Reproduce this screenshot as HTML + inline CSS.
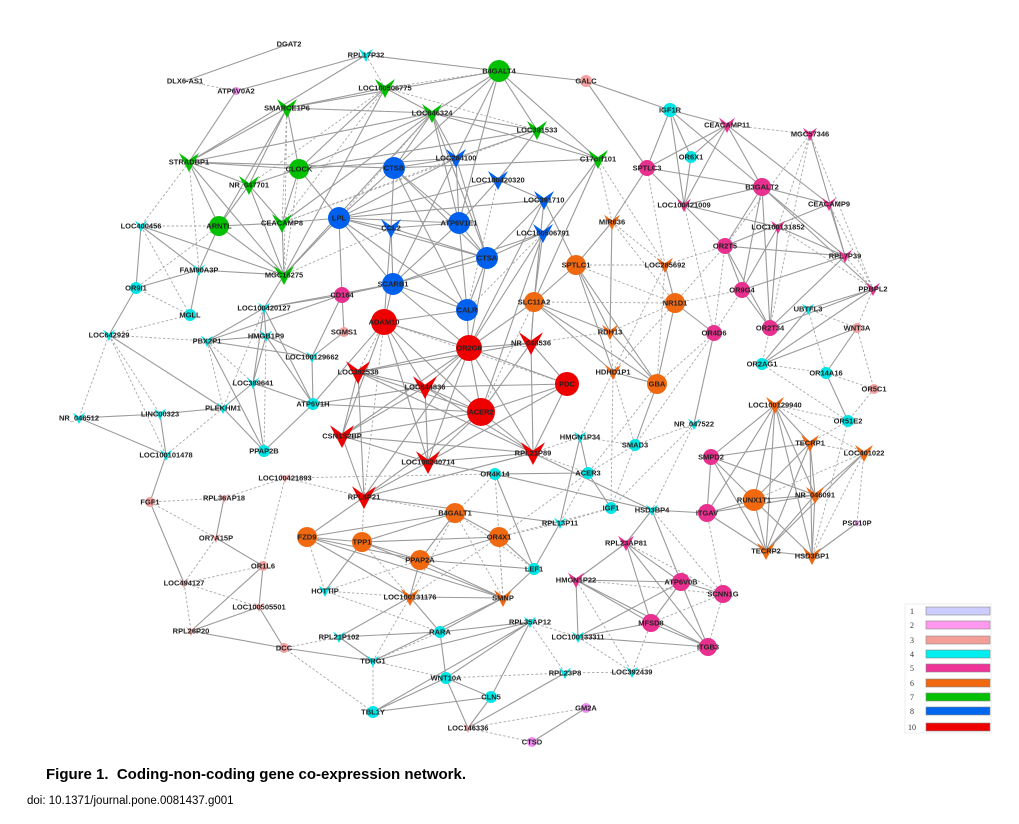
<!DOCTYPE html>
<html><head><meta charset="utf-8"><style>
body{margin:0;background:#fff;width:1019px;height:824px;overflow:hidden;font-family:"Liberation Sans",Arial,sans-serif}
svg{position:absolute;left:0;top:0}
#lab text{font-family:"Liberation Sans",Arial,sans-serif;font-size:7.5px;font-weight:bold;fill:#222;text-anchor:middle;dominant-baseline:central}
.cap{position:absolute;left:46px;top:766px;font-size:15px;font-weight:bold;color:#000}
.doi{position:absolute;left:27px;top:795px;font-size:11.5px;color:#000}
</style></head><body>
<svg width="1019" height="824" viewBox="0 0 1019 824">
<g id="edges"></g><g id="nodes"></g>
<g id="lab">
<text x="289" y="44">DGAT2</text><text x="185" y="81">DLX6-AS1</text>
<text x="366" y="55">RPL17P32</text><text x="236" y="91">ATP6V0A2</text>
<text x="499" y="71">B4GALT4</text><text x="385" y="88">LOC100506775</text>
<text x="287" y="108">SMARCE1P6</text><text x="432" y="113">LOC646324</text>
<text x="537" y="130">LOC391533</text><text x="598" y="159">C17orf101</text>
<text x="189" y="162">STRADBP1</text><text x="299" y="169">CLOCK</text>
<text x="249" y="185">NR_047701</text><text x="219" y="226">ARNTL</text>
<text x="282" y="223">CEACAMP8</text><text x="284" y="275">MGC16275</text>
<text x="394" y="168">CTSB</text><text x="456" y="158">LOC284100</text>
<text x="498" y="180">LOC100420320</text><text x="544" y="200">LOC391710</text>
<text x="339" y="218">LPL</text><text x="391" y="228">CCL2</text>
<text x="459" y="223">ATP6V1E1</text><text x="543" y="233">LOC100506791</text>
<text x="487" y="258">CTSA</text><text x="393" y="284">SCARB1</text><text x="467" y="310">CALR</text>
<text x="384" y="322">ADAM10</text><text x="469" y="348">OR2G6</text>
<text x="531" y="343">NR_048536</text><text x="358" y="372">LOC392538</text>
<text x="425" y="387">LOC644836</text><text x="567" y="384">PDC</text>
<text x="481" y="412">ACER2</text><text x="342" y="436">CSN1S2BP</text>
<text x="533" y="453">RPL21P89</text><text x="428" y="462">LOC100240714</text>
<text x="364" y="497">RPL6P21</text>
<text x="612" y="222">MIR636</text><text x="576" y="265">SPTLC1</text>
<text x="665" y="265">LOC285692</text><text x="534" y="302">SLC11A2</text>
<text x="675" y="303">NR1D1</text><text x="610" y="332">RDH13</text>
<text x="613" y="372">HDHD1P1</text><text x="657" y="384">GBA</text>
<text x="455" y="513">B4GALT1</text><text x="307" y="537">FZD9</text>
<text x="362" y="542">TPP1</text><text x="499" y="537">OR4X1</text>
<text x="420" y="560">PPAP2A</text><text x="410" y="597">LOC100131176</text>
<text x="503" y="598">SMNP</text><text x="775" y="405">LOC100129940</text>
<text x="810" y="443">TECRP1</text><text x="864" y="453">LOC401022</text>
<text x="754" y="500">RUNX1T1</text><text x="815" y="495">NR_046091</text>
<text x="766" y="551">TECRP2</text><text x="812" y="556">HSD3BP1</text>
<text x="647" y="168">SPTLC3</text><text x="727" y="125">CEACAMP11</text>
<text x="810" y="134">MGC57346</text><text x="762" y="187">B3GALT2</text>
<text x="684" y="205">LOC100421009</text><text x="829" y="204">CEACAMP9</text>
<text x="778" y="227">LOC100131852</text><text x="725" y="246">OR2T5</text>
<text x="845" y="256">RPL7P39</text><text x="742" y="290">OR9G4</text>
<text x="873" y="289">PPBPL2</text><text x="770" y="328">OR2T34</text>
<text x="714" y="333">OR4D6</text><text x="711" y="457">SMPD2</text>
<text x="707" y="513">ITGAV</text><text x="626" y="543">RPL23AP81</text>
<text x="576" y="580">HMGN1P22</text><text x="681" y="582">ATP6V0B</text>
<text x="723" y="594">SCNN1G</text><text x="651" y="623">MFSD8</text>
<text x="708" y="647">ITGB3</text><text x="342" y="295">CD164</text>
<text x="670" y="110">IGF1R</text><text x="691" y="157">OR6X1</text>
<text x="136" y="288">OR9I1</text><text x="190" y="315">MGLL</text>
<text x="141" y="226">LOC400456</text><text x="199" y="270">FAM90A3P</text>
<text x="264" y="308">LOC100420127</text><text x="109" y="335">LOC642929</text>
<text x="207" y="341">PBX2P1</text><text x="266" y="336">HMGB1P9</text>
<text x="312" y="357">LOC100129662</text><text x="253" y="383">LOC389641</text>
<text x="313" y="404">ATP6V1H</text><text x="223" y="408">PLEKHM1</text>
<text x="160" y="414">LINC00323</text><text x="79" y="418">NR_046512</text>
<text x="166" y="455">LOC100101478</text><text x="264" y="451">PPAP2B</text>
<text x="808" y="309">UBTFL3</text><text x="762" y="364">OR2AG1</text>
<text x="826" y="373">OR14A16</text><text x="848" y="421">OR51E2</text>
<text x="694" y="424">NR_047522</text><text x="580" y="437">HMGN1P34</text>
<text x="635" y="445">SMAD3</text><text x="588" y="473">ACER3</text>
<text x="495" y="474">OR4K14</text><text x="611" y="508">IGF1</text>
<text x="652" y="510">HSD3BP4</text><text x="560" y="523">RPL13P11</text>
<text x="534" y="569">LEF1</text><text x="325" y="591">HOTTIP</text>
<text x="440" y="632">RARA</text><text x="530" y="622">RPL35AP12</text>
<text x="339" y="637">RPL21P102</text><text x="373" y="661">TDRG1</text>
<text x="446" y="678">WNT10A</text><text x="491" y="697">CLN5</text>
<text x="373" y="712">TBL1Y</text><text x="578" y="637">LOC100133311</text>
<text x="632" y="672">LOC392439</text><text x="565" y="673">RPL23P8</text>
<text x="586" y="81">GALC</text><text x="344" y="332">SGMS1</text>
<text x="857" y="328">WNT3A</text><text x="874" y="389">OR5C1</text>
<text x="150" y="502">FGF1</text><text x="224" y="498">RPL36AP18</text>
<text x="285" y="478">LOC100421893</text><text x="216" y="538">OR7A15P</text>
<text x="263" y="566">OR1L6</text><text x="184" y="583">LOC494127</text>
<text x="259" y="607">LOC100505501</text><text x="191" y="631">RPL26P20</text>
<text x="284" y="648">DCC</text><text x="468" y="728">LOC146336</text>
<text x="857" y="523">PSG10P</text><text x="586" y="708">GM2A</text><text x="532" y="742">CTSD</text>
</g>
<g id="legend" font-family="Liberation Serif,serif" font-size="8" fill="#333">
<rect x="905" y="604" width="86" height="129" fill="none" stroke="#eee"/>
<text x="910" y="614">1</text><rect x="926" y="607" width="64" height="8" fill="#ccccff" stroke="#888" stroke-width="0.6"/>
<text x="910" y="628">2</text><rect x="926" y="621" width="64" height="8" fill="#ff99f0" stroke="#888" stroke-width="0.6"/>
<text x="910" y="643">3</text><rect x="926" y="636" width="64" height="8" fill="#f49e9a" stroke="#888" stroke-width="0.6"/>
<text x="910" y="657">4</text><rect x="926" y="650" width="64" height="8" fill="#00eeee" stroke="#888" stroke-width="0.6"/>
<text x="910" y="671">5</text><rect x="926" y="664" width="64" height="8" fill="#ee3399" stroke="#888" stroke-width="0.6"/>
<text x="910" y="686">6</text><rect x="926" y="679" width="64" height="8" fill="#f06810" stroke="#888" stroke-width="0.6"/>
<text x="910" y="700">7</text><rect x="926" y="693" width="64" height="8" fill="#00c000" stroke="#888" stroke-width="0.6"/>
<text x="910" y="714">8</text><rect x="926" y="707" width="64" height="8" fill="#0066ee" stroke="#888" stroke-width="0.6"/>
<text x="908" y="730">10</text><rect x="926" y="723" width="64" height="8" fill="#ee0000" stroke="#888" stroke-width="0.6"/>
</g>
</svg>
<div class="cap">Figure 1.&nbsp; Coding-non-coding gene co-expression network.</div>
<div class="doi">doi: 10.1371/journal.pone.0081437.g001</div>
<script>
var G='#00c000',B='#0060ee',R='#ee0000',O='#f06810',P='#e8308f',C='#00e6e6',S='#f2a0a0',V='#f08ef0';
var N={
DGAT2:[289,44,'n'],'DLX6-AS1':[185,81,'n'],
RPL17P32:[366,55,'v',C,7],ATP6V0A2:[236,91,'c',V,4],
B4GALT4:[499,71,'c',G,11],LOC100506775:[385,88,'v',G,10],SMARCE1P6:[287,108,'v',G,10],LOC646324:[432,113,'v',G,10],
LOC391533:[537,130,'v',G,10],C17orf101:[598,159,'v',G,10],STRADBP1:[189,162,'v',G,10],CLOCK:[299,169,'c',G,10],
NR_047701:[249,185,'v',G,10],ARNTL:[219,226,'c',G,10],CEACAMP8:[282,223,'v',G,10],MGC16275:[284,275,'v',G,10],
CTSB:[394,168,'c',B,11],LOC284100:[456,158,'v',B,10],LOC100420320:[498,180,'v',B,10],LOC391710:[544,200,'v',B,10],
LPL:[339,218,'c',B,11],CCL2:[391,228,'v',B,10],ATP6V1E1:[459,223,'c',B,11],LOC100506791:[543,233,'v',B,10],
CTSA:[487,258,'c',B,11],SCARB1:[393,284,'c',B,11],CALR:[467,310,'c',B,11],
ADAM10:[384,322,'c',R,13],OR2G6:[469,348,'c',R,13],NR_048536:[531,343,'v',R,12],LOC392538:[358,372,'v',R,12],
LOC644836:[425,387,'v',R,12],PDC:[567,384,'c',R,12],ACER2:[481,412,'c',R,14],CSN1S2BP:[342,436,'v',R,12],
RPL21P89:[533,453,'v',R,12],LOC100240714:[428,462,'v',R,12],RPL6P21:[364,497,'v',R,12],
MIR636:[612,222,'v',O,8],SPTLC1:[576,265,'c',O,10],LOC285692:[665,265,'v',O,8],SLC11A2:[534,302,'c',O,10],
NR1D1:[675,303,'c',O,10],RDH13:[610,332,'v',O,8],HDHD1P1:[613,372,'v',O,8],GBA:[657,384,'c',O,10],
B4GALT1:[455,513,'c',O,10],FZD9:[307,537,'c',O,10],TPP1:[362,542,'c',O,10],OR4X1:[499,537,'c',O,10],
PPAP2A:[420,560,'c',O,10],LOC100131176:[410,597,'v',O,9],SMNP:[503,598,'v',O,9],LOC100129940:[775,405,'v',O,9],
TECRP1:[810,443,'v',O,9],LOC401022:[864,453,'v',O,9],RUNX1T1:[754,500,'c',O,11],NR_046091:[815,495,'v',O,9],
TECRP2:[766,551,'v',O,9],HSD3BP1:[812,556,'v',O,9],
SPTLC3:[647,168,'c',P,8],CEACAMP11:[727,125,'v',P,8],MGC57346:[810,134,'v',P,7],B3GALT2:[762,187,'c',P,9],
LOC100421009:[684,205,'v',P,7],CEACAMP9:[829,204,'v',P,7],LOC100131852:[778,227,'v',P,7],OR2T5:[725,246,'c',P,8],
RPL7P39:[845,256,'v',P,7],OR9G4:[742,290,'c',P,8],PPBPL2:[873,289,'v',P,7],OR2T34:[770,328,'c',P,8],
OR4D6:[714,333,'c',P,8],SMPD2:[711,457,'c',P,8],ITGAV:[707,513,'c',P,9],RPL23AP81:[626,543,'v',P,8],
HMGN1P22:[576,580,'v',P,8],ATP6V0B:[681,582,'c',P,9],SCNN1G:[723,594,'c',P,9],MFSD8:[651,623,'c',P,9],
ITGB3:[708,647,'c',P,9],CD164:[342,295,'c',P,8],
IGF1R:[670,110,'c',C,7],OR6X1:[691,157,'c',C,6],OR9I1:[136,288,'c',C,6],MGLL:[190,315,'c',C,6],
LOC400456:[141,226,'v',C,6],FAM90A3P:[199,270,'v',C,6],LOC100420127:[264,308,'v',C,6],LOC642929:[109,335,'v',C,6],
PBX2P1:[207,341,'v',C,6],HMGB1P9:[266,336,'v',C,6],LOC100129662:[312,357,'v',C,6],LOC389641:[253,383,'v',C,6],
ATP6V1H:[313,404,'c',C,6],PLEKHM1:[223,408,'v',C,6],LINC00323:[160,414,'v',C,6],NR_046512:[79,418,'v',C,6],
LOC100101478:[166,455,'v',C,6],PPAP2B:[264,451,'c',C,6],UBTFL3:[808,309,'v',C,6],OR2AG1:[762,364,'c',C,6],
OR14A16:[826,373,'c',C,6],OR51E2:[848,421,'c',C,6],NR_047522:[694,424,'v',C,6],HMGN1P34:[580,437,'v',C,6],
SMAD3:[635,445,'c',C,6],ACER3:[588,473,'c',C,6],OR4K14:[495,474,'c',C,6],IGF1:[611,508,'c',C,6],
HSD3BP4:[652,510,'v',C,6],RPL13P11:[560,523,'v',C,6],LEF1:[534,569,'c',C,6],HOTTIP:[325,591,'v',C,6],
RARA:[440,632,'c',C,6],RPL35AP12:[530,622,'v',C,6],RPL21P102:[339,637,'v',C,6],TDRG1:[373,661,'v',C,6],
WNT10A:[446,678,'c',C,6],CLN5:[491,697,'c',C,6],TBL1Y:[373,712,'c',C,6],LOC100133311:[578,637,'v',C,6],
LOC392439:[632,672,'v',C,6],RPL23P8:[565,673,'v',C,6],
GALC:[586,81,'c',S,6],SGMS1:[344,332,'c',S,5],WNT3A:[857,328,'c',S,5],OR5C1:[874,389,'c',S,5],FGF1:[150,502,'c',S,5],
RPL36AP18:[224,498,'v',S,5],LOC100421893:[285,478,'v',S,5],OR7A15P:[216,538,'v',S,5],OR1L6:[263,566,'c',S,5],
LOC494127:[184,583,'v',S,5],LOC100505501:[259,607,'v',S,5],RPL26P20:[191,631,'v',S,5],DCC:[284,648,'c',S,5],
LOC146336:[468,728,'v',S,5],PSG10P:[857,523,'v',V,4],GM2A:[586,708,'c',V,5],CTSD:[532,742,'c',V,5]};
var E=`B4GALT4-RPL17P32 B4GALT4-GALC B4GALT4-LOC646324 B4GALT4-C17orf101 B4GALT4-LOC391533 B4GALT4-SMARCE1P6 B4GALT4-ATP6V1E1 B4GALT4-CTSB B4GALT4~LOC100506775 B4GALT4-LOC284100
RPL17P32-ATP6V0A2 RPL17P32-STRADBP1 RPL17P32~LOC100506775 DGAT2-DLX6-AS1 DLX6-AS1~ATP6V0A2 ATP6V0A2-STRADBP1
SMARCE1P6-LOC100506775 SMARCE1P6-STRADBP1 SMARCE1P6-NR_047701 SMARCE1P6-CLOCK SMARCE1P6~CEACAMP8 SMARCE1P6~MGC16275 SMARCE1P6-LOC646324 SMARCE1P6-ARNTL
LOC100506775-CLOCK LOC100506775~NR_047701 LOC100506775-LOC646324 LOC100506775~CEACAMP8 LOC100506775-MGC16275 LOC100506775~LOC391533
LOC646324-CLOCK LOC646324-CEACAMP8 LOC646324-LOC391533 LOC646324-C17orf101 LOC646324-STRADBP1 LOC646324-MGC16275 LOC646324-CTSB LOC646324-ATP6V1E1 LOC646324-CTSA LOC646324~LPL LOC646324-LOC284100
LOC391533-CLOCK LOC391533-C17orf101 LOC391533-LOC100420320 LOC391533~CEACAMP8 LOC391533-LOC284100
C17orf101-SLC11A2 C17orf101-LOC100506791 C17orf101~LOC285692 C17orf101~MIR636 C17orf101-CTSB
STRADBP1-CLOCK STRADBP1-NR_047701 STRADBP1-ARNTL STRADBP1-MGC16275 STRADBP1~LOC400456 STRADBP1~FAM90A3P STRADBP1-CTSB
CLOCK-CEACAMP8 CLOCK~MGC16275 CLOCK-NR_047701 CLOCK-LPL CLOCK-LOC284100
NR_047701-ARNTL NR_047701-CEACAMP8 NR_047701-MGC16275
ARNTL-CEACAMP8 ARNTL~LOC400456 ARNTL-MGC16275 ARNTL~OR9I1 ARNTL-FAM90A3P
CEACAMP8-MGC16275 CEACAMP8-LPL CEACAMP8~LOC284100
MGC16275-FAM90A3P MGC16275-LPL MGC16275-LOC100420127 MGC16275~CCL2
LOC400456-OR9I1 LOC400456~MGLL LOC400456-FAM90A3P LOC400456-MGC16275
OR9I1-FAM90A3P OR9I1~MGLL OR9I1-LOC642929 FAM90A3P-MGLL MGLL~LOC642929
CTSB-CCL2 CTSB-ATP6V1E1 CTSB-CTSA CTSB-CALR CTSB-LPL CTSB-LOC284100
LOC284100-ATP6V1E1 LOC284100-LPL LOC284100-CTSA LOC284100-SCARB1
LOC100420320-ATP6V1E1 LOC100420320~CALR LOC100420320-LPL LOC100420320-LOC391710
LOC391710-CTSA LOC391710-SLC11A2 LOC391710-SPTLC1 LOC391710-OR2G6 LOC391710-LPL
LPL-CCL2 LPL-ATP6V1E1 LPL-CTSA LPL-CALR LPL-CD164 LPL-SCARB1
CCL2-SCARB1 CCL2-CTSA CCL2-ATP6V1E1 CCL2-ADAM10
ATP6V1E1-CTSA ATP6V1E1-CALR ATP6V1E1-SCARB1
LOC100506791-CTSA LOC100506791-SLC11A2 LOC100506791-OR2G6 LOC100506791-ACER2 LOC100506791-SCARB1 LOC100506791~CALR
CTSA-SCARB1 CTSA-CALR CTSA-OR2G6
SCARB1-CD164 SCARB1-ADAM10 SCARB1-LOC100420127 SCARB1-CALR SCARB1-OR2G6
CALR-OR2G6 CALR-ADAM10
ADAM10-OR2G6 ADAM10~PDC ADAM10~LOC392538 ADAM10-LOC644836 ADAM10-ACER2 ADAM10-CSN1S2BP ADAM10~RPL6P21 ADAM10-LOC100240714
OR2G6-NR_048536 OR2G6-LOC392538 OR2G6-LOC644836 OR2G6-PDC OR2G6-ACER2 OR2G6-CSN1S2BP OR2G6-RPL21P89 OR2G6-RPL6P21 OR2G6-LOC100240714
NR_048536-PDC NR_048536-ACER2 NR_048536-LOC392538 NR_048536-RPL21P89 NR_048536-SLC11A2 NR_048536~RDH13
LOC392538-LOC644836 LOC392538-ACER2 LOC392538-CSN1S2BP LOC392538-RPL6P21 LOC392538-RPL21P89
LOC644836-ACER2 LOC644836-PDC LOC644836-LOC100240714 LOC644836-RPL21P89 LOC644836-CSN1S2BP
PDC-ACER2 PDC-RPL21P89 PDC-LOC100240714
ACER2-CSN1S2BP ACER2-RPL21P89 ACER2-LOC100240714 ACER2-RPL6P21
CSN1S2BP-LOC100240714 CSN1S2BP-RPL6P21 CSN1S2BP-RPL21P89
RPL21P89-LOC100240714 RPL21P89-RPL6P21 RPL21P89~ACER3 RPL21P89-HSD3BP4
LOC100240714-RPL6P21 LOC100240714-OR4K14
RPL6P21~LOC100421893 RPL6P21-FZD9 RPL6P21~B4GALT1 RPL6P21~TPP1
MIR636-SPTLC1 MIR636~LOC285692 MIR636-RDH13 MIR636~NR1D1 MIR636-SPTLC3
SPTLC1~LOC285692 SPTLC1-SLC11A2 SPTLC1-RDH13 SPTLC1-GBA SPTLC1~NR1D1 SPTLC1-HDHD1P1
LOC285692-NR1D1 LOC285692~OR2T5 LOC285692~HDHD1P1 LOC285692~SPTLC3 LOC285692~GBA
SLC11A2~NR1D1 SLC11A2-RDH13 SLC11A2-GBA SLC11A2-HDHD1P1 SLC11A2-OR2G6 SLC11A2~ACER2 SLC11A2-NR_048536
NR1D1-OR4D6 NR1D1-GBA NR1D1~RDH13 NR1D1~HDHD1P1
RDH13-GBA RDH13~HDHD1P1 HDHD1P1-GBA HDHD1P1~SMAD3 HDHD1P1~IGF1 GBA~ACER3 GBA~OR4D6
GALC-IGF1R GALC-SPTLC3
IGF1R-SPTLC3 IGF1R-OR6X1 IGF1R-LOC100421009 IGF1R-B3GALT2 IGF1R-CEACAMP11
CEACAMP11~MGC57346 CEACAMP11-SPTLC3 CEACAMP11-B3GALT2 CEACAMP11-LOC100421009 CEACAMP11-CEACAMP9 CEACAMP11-OR6X1
MGC57346~OR2T5 MGC57346-RPL7P39 MGC57346~LOC100131852 MGC57346~OR2T34 MGC57346~PPBPL2
SPTLC3-B3GALT2 SPTLC3-OR2T5 OR6X1-LOC100421009
B3GALT2-LOC100421009 B3GALT2-CEACAMP9 B3GALT2-OR9G4 B3GALT2-OR2T34 B3GALT2-RPL7P39 B3GALT2-OR2T5 B3GALT2-PPBPL2
LOC100421009-LOC100131852 LOC100421009~OR4D6
CEACAMP9-RPL7P39 CEACAMP9-OR2T5 CEACAMP9~PPBPL2
LOC100131852-OR2T34 LOC100131852-RPL7P39 LOC100131852-OR9G4 LOC100131852~PPBPL2
OR2T5-RPL7P39 OR2T5-OR9G4 OR2T5-OR2T34 OR2T5~OR4D6 OR2T5~NR1D1
RPL7P39-OR9G4 RPL7P39~PPBPL2 RPL7P39-OR2T34
OR9G4-OR2T34 OR9G4~OR4D6 OR9G4~NR1D1
PPBPL2-UBTFL3 PPBPL2-OR2T34 PPBPL2~WNT3A PPBPL2-OR2AG1
UBTFL3-OR2AG1 UBTFL3~OR14A16 UBTFL3~WNT3A OR2T34~OR2AG1
OR4D6-NR_047522 OR4D6~SMAD3
OR2AG1~OR14A16 OR2AG1~OR51E2 OR2AG1-WNT3A OR14A16~OR5C1 OR14A16-OR51E2 OR14A16-WNT3A
WNT3A~OR5C1 OR5C1~OR51E2 OR51E2~LOC100129940 OR51E2~HSD3BP1 OR51E2~TECRP1
LOC100129940-SMPD2 LOC100129940-ITGAV LOC100129940-RUNX1T1 LOC100129940-TECRP1 LOC100129940-NR_046091 LOC100129940-TECRP2 LOC100129940-HSD3BP1 LOC100129940~LOC401022
TECRP1-SMPD2 TECRP1-NR_046091 TECRP1-RUNX1T1 TECRP1-TECRP2 TECRP1-HSD3BP1 TECRP1~LOC401022
LOC401022-NR_046091 LOC401022~PSG10P LOC401022~HSD3BP1 LOC401022-TECRP2 LOC401022~RUNX1T1
SMPD2-ITGAV SMPD2-RUNX1T1 SMPD2-NR_046091 SMPD2-TECRP2
ITGAV-RUNX1T1 ITGAV-NR_046091 ITGAV-TECRP2 ITGAV-HSD3BP4 ITGAV~SCNN1G
RUNX1T1-NR_046091 RUNX1T1-TECRP2 RUNX1T1-HSD3BP1 NR_046091-TECRP2 NR_046091-HSD3BP1 TECRP2-HSD3BP1 HSD3BP1-PSG10P
NR_047522~SMAD3 NR_047522~HSD3BP4 NR_047522~IGF1
HMGN1P34-ACER3 HMGN1P34-RPL13P11 HMGN1P34~RPL21P89 HMGN1P34~SMAD3 HMGN1P34~HDHD1P1
SMAD3~ACER3 SMAD3~IGF1 SMAD3-GBA
ACER3-IGF1 ACER3-OR4K14 ACER3~RPL13P11 ACER3~OR4X1
OR4K14-LEF1 OR4K14-HSD3BP4 OR4K14~SMNP OR4K14~B4GALT1
IGF1~RPL13P11 IGF1~OR4X1
HSD3BP4-RPL23AP81 HSD3BP4-ATP6V0B HSD3BP4~SCNN1G
RPL13P11-LEF1 RPL13P11-RPL6P21 RPL13P11~OR4X1
RPL23AP81-HMGN1P22 RPL23AP81-ATP6V0B RPL23AP81-MFSD8 RPL23AP81-ITGB3 RPL23AP81~SCNN1G
HMGN1P22-ATP6V0B HMGN1P22-MFSD8 HMGN1P22-ITGB3 HMGN1P22-LOC100133311 HMGN1P22~LOC392439 HMGN1P22~SCNN1G
ATP6V0B-SCNN1G ATP6V0B-MFSD8 ATP6V0B-ITGB3 ATP6V0B-LOC100133311
SCNN1G~ITGB3 SCNN1G~MFSD8 MFSD8-ITGB3 MFSD8-LOC100133311 MFSD8~LOC392439
ITGB3-LOC100133311 ITGB3~LOC392439 LOC100133311~LOC392439 LOC100133311~RPL35AP12
RPL23P8~LOC392439 RPL23P8~RPL35AP12 RPL23P8-LOC146336 RPL23P8~WNT10A
B4GALT1-FZD9 B4GALT1-TPP1 B4GALT1-OR4X1 B4GALT1-PPAP2A B4GALT1~LOC100131176 B4GALT1~SMNP B4GALT1~LEF1
FZD9-TPP1 FZD9-PPAP2A FZD9-LOC100131176 FZD9-SMNP FZD9~HOTTIP
TPP1-OR4X1 TPP1-PPAP2A TPP1-SMNP TPP1-HOTTIP TPP1~LOC100131176
OR4X1-PPAP2A OR4X1-LEF1 OR4X1~SMNP OR4X1~LOC100131176
PPAP2A-LOC100131176 PPAP2A-LEF1 PPAP2A-SMNP PPAP2A~HOTTIP
LOC100131176-SMNP LOC100131176-RARA LOC100131176~TDRG1 LOC100131176-RPL21P102
SMNP-LEF1 SMNP-RARA SMNP-TDRG1 HOTTIP~LOC100131176 HOTTIP~RARA
RARA-RPL35AP12 RARA-RPL21P102 RARA-WNT10A RARA~TDRG1
RPL35AP12-WNT10A RPL35AP12-CLN5 RPL35AP12-TDRG1 RPL35AP12-TBL1Y
RPL21P102-TDRG1 RPL21P102~DCC TDRG1-DCC TDRG1~TBL1Y TDRG1~WNT10A
WNT10A-CLN5 WNT10A-TBL1Y WNT10A-LOC146336 CLN5-TBL1Y CLN5-LOC146336
LOC146336~GM2A LOC146336~CTSD GM2A-CTSD TBL1Y~DCC
LOC642929-PLEKHM1 LOC642929~NR_046512 LOC642929~LINC00323 LOC642929~LOC100101478 LOC642929~PBX2P1
PBX2P1-HMGB1P9 PBX2P1-LOC100420127 PBX2P1-LOC100129662 PBX2P1-PPAP2B PBX2P1~PLEKHM1 PBX2P1~LOC389641 PBX2P1-CD164
HMGB1P9-LOC100420127 HMGB1P9-LOC100129662 HMGB1P9-ATP6V1H HMGB1P9-LOC389641 HMGB1P9~PPAP2B
LOC100420127-ATP6V1H LOC100420127-CD164 LOC100420127-LOC389641 LOC100420127~PLEKHM1
LOC100129662-ATP6V1H LOC100129662-SGMS1 LOC100129662-CD164 CD164-SGMS1 CD164-SCARB1
LOC389641-PPAP2B LOC389641-ATP6V1H LOC389641-PLEKHM1
ATP6V1H-PPAP2B ATP6V1H-ACER2 ATP6V1H-LOC644836 ATP6V1H-ADAM10
PLEKHM1-LINC00323 PLEKHM1-PPAP2B PLEKHM1~LOC100101478
LINC00323-NR_046512 LINC00323-LOC100101478 NR_046512-LOC100101478 LOC100101478-FGF1
FGF1~RPL36AP18 FGF1-LOC494127 FGF1~OR7A15P RPL36AP18-OR7A15P RPL36AP18~LOC100421893
LOC100421893~OR1L6 LOC100421893~OR4K14 OR7A15P-OR1L6 OR7A15P~LOC494127
OR1L6-LOC100505501 OR1L6-RPL26P20 OR1L6~LOC494127 LOC494127~RPL26P20 LOC494127~LOC100505501
LOC100505501-RPL26P20 LOC100505501-DCC RPL26P20-DCC`;
var ns='http://www.w3.org/2000/svg',eg=document.getElementById('edges'),ng=document.getElementById('nodes');
function el(t,a,p){var e=document.createElementNS(ns,t);for(var k in a)e.setAttribute(k,a[k]);p.appendChild(e);return e;}
E.split(/\s+/).forEach(function(s){if(!s)return;var d=s.indexOf('~')>0,parts;
 var sep=d?'~':'-';var i=s.indexOf(sep,s.indexOf('DLX6')===0?8:0);
 if(s.indexOf('DGAT2-DLX6')===0){parts=['DGAT2','DLX6-AS1'];}
 else{parts=[s.slice(0,i),s.slice(i+1)];}
 var a=N[parts[0]],b=N[parts[1]];if(!a||!b)return;
 var at={x1:a[0],y1:a[1],x2:b[0],y2:b[1],stroke:d?'#a8a8a8':'#9a9a9a','stroke-width':d?0.9:1.1};
 if(d)at['stroke-dasharray']='2.5,2';el('line',at,eg);});
for(var k in N){var n=N[k];if(n[2]=='n')continue;var x=n[0],y=n[1],c=n[3],r=n[4];
 if(n[2]=='c')el('circle',{cx:x,cy:y,r:r,fill:c},ng);
 else el('path',{d:'M'+(x-r)+' '+(y-r*0.9)+'L'+x+' '+(y-r*0.2)+'L'+(x+r)+' '+(y-r*0.9)+'L'+x+' '+(y+r*1.0)+'Z',fill:c},ng);}
</script>
</body></html>
